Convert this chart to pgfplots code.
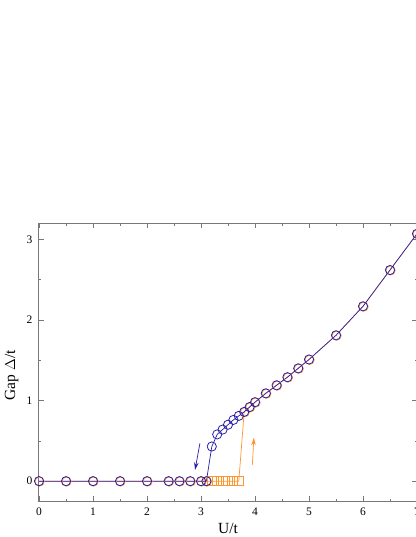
\documentclass[border=0pt]{standalone}
\usepackage{fontspec}
\setmainfont{Liberation Serif}
\usepackage{pgfplots}
\pgfplotsset{compat=1.18}
\usetikzlibrary{arrows.meta}

\definecolor{gapblue}{RGB}{40,30,170}
\definecolor{gaporange}{RGB}{255,150,45}
\definecolor{axgray}{RGB}{120,120,120}

\begin{document}
\begin{tikzpicture}
\begin{axis}[
    at={(0,0)}, anchor=south west,
    scale only axis,
    width=378pt, height=278pt,
    xmin=0, xmax=7, ymin=-0.25, ymax=3.2,
    xtick={0,1,...,7}, ytick={0,1,2,3},
    minor x tick num=1, minor y tick num=1,
    tick align=inside,
    major tick length=5pt, minor tick length=2.5pt,
    axis line style={axgray, line width=1pt},
    every tick/.style={axgray, line width=0.7pt},
    tick label style={font=\fontsize{11.5}{13}\selectfont},
    /pgf/number format/assume math mode=true,
    xticklabel style={yshift=-3.5pt},
    yticklabel style={xshift=-3pt},
    xlabel={U/t}, ylabel={Gap $\Delta$/t},
    label style={font=\fontsize{15.5}{17}\selectfont},
    xlabel style={yshift=0pt},
    ylabel style={yshift=1.5pt, xshift=-13pt},
    clip=false,
]
% orange branch (drawn first, underneath)
\addplot[gaporange, line width=0.7pt, no marks] coordinates {
 (0,0) (0.5,0) (1,0) (1.5,0) (2,0) (2.4,0) (2.6,0) (2.8,0) (3.0,0) (3.1,0)
 (3.2,0) (3.3,0) (3.4,0) (3.5,0) (3.6,0) (3.7,0)
 (3.8,0.86) (3.9,0.92) (4.0,0.98) (4.2,1.09) (4.4,1.19) (4.6,1.29) (4.8,1.40)
 (5.0,1.51) (5.5,1.81) (6.0,2.17) (6.5,2.62) (7.0,3.07)};
\addplot[gaporange, only marks, mark=square, mark size=4.4pt, line width=0.7pt] coordinates {
 (3.2,0) (3.3,0) (3.4,0) (3.5,0) (3.6,0) (3.7,0)};
\addplot[gaporange, only marks, mark=o, mark size=4.6pt, line width=0.8pt,
    xshift=0.6pt, yshift=-0.4pt] coordinates {
 (0,0) (0.5,0) (1,0) (1.5,0) (2,0) (2.4,0) (2.6,0) (2.8,0) (3.0,0) (3.1,0)
 (3.8,0.86) (3.9,0.92) (4.0,0.98) (4.2,1.09) (4.4,1.19) (4.6,1.29) (4.8,1.40)
 (5.0,1.51) (5.5,1.81) (6.0,2.17) (6.5,2.62) (7.0,3.07)};
% blue branch
\addplot[gapblue, line width=0.7pt, mark=o, mark size=4.6pt,
    mark options={line width=0.8pt}] coordinates {
 (0,0) (0.5,0) (1,0) (1.5,0) (2,0) (2.4,0) (2.6,0) (2.8,0) (3.0,0) (3.1,0)
 (3.2,0.43) (3.3,0.58) (3.4,0.64) (3.5,0.70) (3.6,0.76) (3.7,0.81)
 (3.8,0.86) (3.9,0.92) (4.0,0.98) (4.2,1.09) (4.4,1.19) (4.6,1.29) (4.8,1.40)
 (5.0,1.51) (5.5,1.81) (6.0,2.17) (6.5,2.62) (7.0,3.07)};
% arrows
\draw[gapblue, line width=0.7pt, -{Stealth[length=7.5pt,width=4.5pt]}]
    (axis cs:2.98,0.47) -- (axis cs:2.89,0.14);
\draw[gaporange, line width=0.7pt, -{Stealth[length=7.5pt,width=4.5pt]}]
    (axis cs:3.95,0.20) -- (axis cs:3.98,0.54);
\end{axis}
\pgfresetboundingbox
\path[use as bounding box] (-39pt,-35.7pt) rectangle (376pt,501.3pt);
\end{tikzpicture}
\end{document}
